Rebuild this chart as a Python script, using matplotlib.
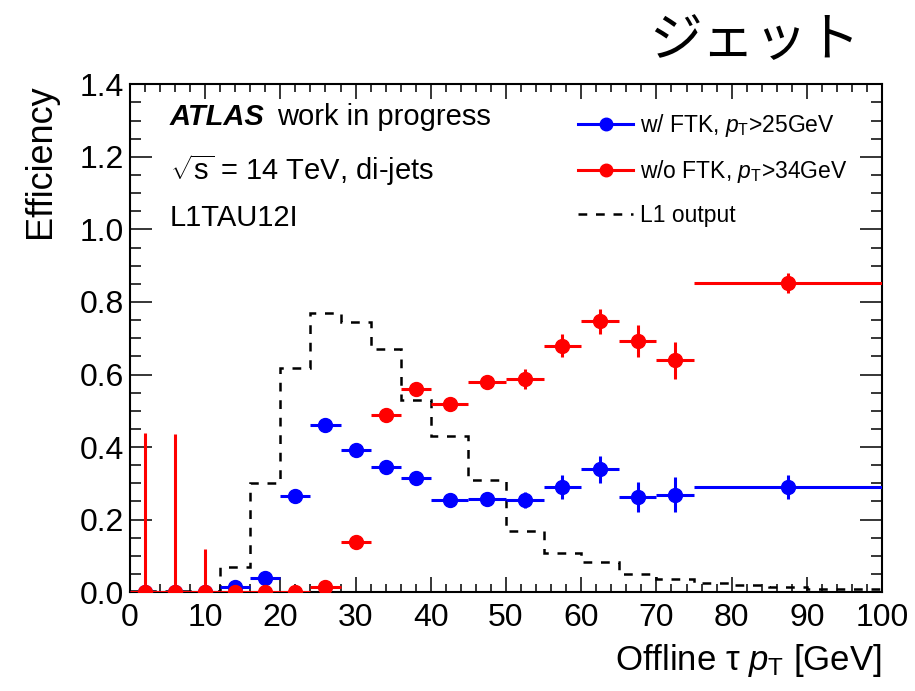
import matplotlib
matplotlib.use("Agg")
import matplotlib.pyplot as plt
import matplotlib.ticker as ticker
from matplotlib.lines import Line2D
import numpy as np

plt.rcParams['font.family'] = ['Liberation Sans', 'DejaVu Sans']
plt.rcParams['mathtext.fontset'] = 'custom'
plt.rcParams['mathtext.rm'] = 'Liberation Sans'
plt.rcParams['mathtext.it'] = 'Liberation Sans:italic'
plt.rcParams['mathtext.bf'] = 'Liberation Sans:bold'

# efficiency binning (GeV)
bin_edges = [0, 4, 8, 12, 16, 20, 24, 28, 32, 36, 40, 45, 50, 55, 60, 65, 70, 75, 100]

# w/ FTK, pT > 25 GeV
eff_ftk = [0.0, 0.0, 0.0, 0.013, 0.040, 0.265, 0.460, 0.391, 0.344, 0.315,
           0.253, 0.258, 0.253, 0.290, 0.339, 0.263, 0.269, 0.290]
err_ftk = [0.002, 0.002, 0.002, 0.005, 0.008, 0.010, 0.010, 0.010, 0.010, 0.010,
           0.010, 0.015, 0.022, 0.032, 0.037, 0.042, 0.048, 0.034]

# w/o FTK, pT > 34 GeV
eff_noftk = [0.0, 0.0, 0.0, 0.0, 0.0, 0.0, 0.013, 0.139, 0.488, 0.559,
             0.520, 0.580, 0.587, 0.679, 0.747, 0.693, 0.639, 0.852]
err_noftk_lo = [0.0, 0.0, 0.0, 0.0, 0.0, 0.0, 0.005, 0.010, 0.010, 0.010,
                0.010, 0.015, 0.028, 0.032, 0.034, 0.044, 0.052, 0.027]
err_noftk_hi = [0.439, 0.435, 0.118, 0.0, 0.0, 0.0, 0.005, 0.010, 0.010, 0.010,
                0.010, 0.015, 0.028, 0.032, 0.034, 0.044, 0.052, 0.027]

# L1 output (normalised distribution)
l1_edges = [0, 4, 8, 12, 16, 20, 24, 28, 32, 36, 40, 45, 50, 55, 60, 65, 70, 75,
            80, 85, 90, 95, 100]
l1_values = [0.003, 0.003, 0.003, 0.070, 0.300, 0.619, 0.770, 0.745, 0.670, 0.529,
             0.430, 0.309, 0.169, 0.107, 0.083, 0.050, 0.035, 0.024, 0.019, 0.013,
             0.010, 0.008]

edges = np.array(bin_edges, dtype=float)
centers = 0.5 * (edges[1:] + edges[:-1])
half_w = 0.5 * (edges[1:] - edges[:-1])

fig = plt.figure(figsize=(9.15, 6.91), dpi=100)
ax = fig.add_axes([0.142, 0.143, 0.822, 0.735])

ax.stairs(l1_values, l1_edges, color='black', linestyle=(0, (3.5, 3.5)), linewidth=1.8,
          baseline=None, zorder=2)

ax.errorbar(centers, eff_ftk, xerr=half_w, yerr=err_ftk, fmt='o', color='blue',
            markersize=10, elinewidth=2.2, capsize=0, zorder=3, clip_on=True)
ax.errorbar(centers, eff_noftk, xerr=half_w, yerr=[err_noftk_lo, err_noftk_hi], fmt='o',
            color='red', markersize=10, elinewidth=2.2, capsize=0, zorder=4, clip_on=True)

ax.set_xlim(0, 100)
ax.set_ylim(0, 1.4)

ax.xaxis.set_major_locator(ticker.MultipleLocator(10))
ax.xaxis.set_minor_locator(ticker.MultipleLocator(2))
ax.yaxis.set_major_locator(ticker.MultipleLocator(0.2))
ax.yaxis.set_minor_locator(ticker.MultipleLocator(0.05))
ax.yaxis.set_major_formatter(ticker.FormatStrFormatter('%.1f'))

ax.tick_params(axis='both', which='both', direction='in', top=True, right=True,
               labelsize=23, width=1.1)
ax.tick_params(axis='x', which='major', length=11, pad=8)
ax.tick_params(axis='x', which='minor', length=5.5)
ax.tick_params(axis='y', which='major', length=16, pad=4)
ax.tick_params(axis='y', which='minor', length=8)
for s in ax.spines.values():
    s.set_linewidth(1.5)

ax.set_xlabel(r'Offline τ $p_{\rm T}$ [GeV]', fontsize=25, loc='right', labelpad=6)
ax.set_ylabel('Efficiency', fontsize=26, loc='top', labelpad=16)

# labels
ax.text(0.053, 0.935, 'ATLAS', transform=ax.transAxes, fontsize=21, fontweight='bold',
        fontstyle='italic', va='center', ha='left')
ax.text(0.195, 0.935, 'work in progress', transform=ax.transAxes, fontsize=21,
        va='center', ha='left')
ax.text(0.053, 0.831, r'$\sqrt{\rm s}$ = 14 TeV, di-jets', transform=ax.transAxes,
        fontsize=21, va='center', ha='left')
ax.text(0.053, 0.736, 'L1TAU12I', transform=ax.transAxes, fontsize=21,
        va='center', ha='left')

handles = [
    Line2D([], [], color='blue', marker='o', markersize=9, linewidth=2.2),
    Line2D([], [], color='red', marker='o', markersize=9, linewidth=2.2),
    Line2D([], [], color='black', linestyle=(0, (3.5, 3.5)), linewidth=1.8),
]
labels = [r'w/ FTK, $p_{\rm T}$>25GeV', r'w/o FTK, $p_{\rm T}$>34GeV', 'L1 output']
ax.legend(handles, labels, loc='upper left', bbox_to_anchor=(0.596, 0.945),
          frameon=False, fontsize=16.5, handlelength=2.4, handletextpad=0.3,
          labelspacing=0.83, borderpad=0, borderaxespad=0)

fig.text(0.94, 0.942, 'ジェット', fontsize=38, ha='right', va='center',
         family=['Noto Sans CJK JP', 'DejaVu Sans'])

fig.savefig('out.png', dpi=100)
